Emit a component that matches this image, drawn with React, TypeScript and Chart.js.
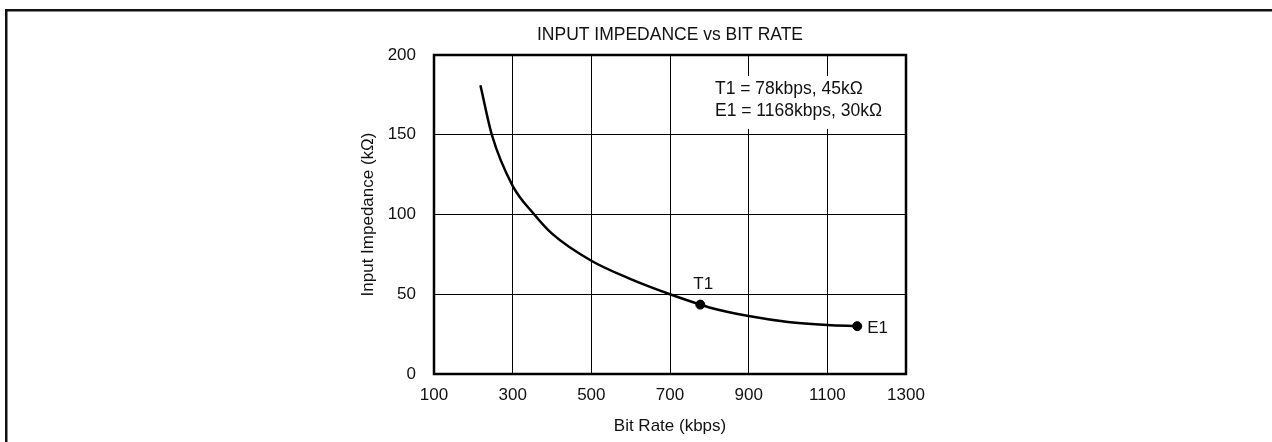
import React, { useEffect, useRef } from "react";
import { Chart, registerables } from "chart.js";

Chart.register(...registerables);

// ---- data ----
const curveX = [218, 247, 300, 355, 400, 500, 600, 700, 777, 800, 900, 1000, 1100, 1176];
const curveY = [181, 150, 118, 100, 88, 71, 59.5, 50, 43.5, 41.7, 36.3, 32.6, 30.7, 30];
const markerNames = ["T1", "E1"];
const markerX = [777, 1176];
const markerY = [43.5, 30];
const xTicks = [100, 300, 500, 700, 900, 1100, 1300];
const yTicks = [0, 50, 100, 150, 200];
const titleText = "INPUT IMPEDANCE vs BIT RATE";
const xTitle = "Bit Rate (kbps)";
const yTitle = "Input Impedance (kΩ)";
const noteLines = ["T1 = 78kbps, 45kΩ", "E1 = 1168kbps, 30kΩ"];

const FONT = '"Liberation Sans", Arial, Helvetica, sans-serif';
const FS = 17;
const FS_TITLE = 17.5;
const W = 1272;
const H = 442;

const decor = {
  id: "decor",
  beforeDraw(chart: any) {
    const ctx = chart.ctx;
    ctx.save();
    ctx.fillStyle = "#111";
    ctx.fillRect(5, 9, W - 5, 2.5);
    ctx.fillRect(5, 9, 2.5, H - 9);
    ctx.restore();
  },
  afterDatasetsDraw(chart: any) {
    const { ctx, chartArea: a } = chart;
    ctx.save();
    ctx.font = `${FS_TITLE}px ${FONT}`;
    const tx = a.left + 281;
    let maxW = 0;
    noteLines.forEach((t) => {
      maxW = Math.max(maxW, ctx.measureText(t).width);
    });
    ctx.fillStyle = "#fff";
    ctx.fillRect(tx - 5, a.top + 21, maxW + 10, 53);
    ctx.fillStyle = "#111";
    ctx.textAlign = "left";
    ctx.textBaseline = "middle";
    noteLines.forEach((t, i) => {
      ctx.fillText(t, tx, a.top + 34 + i * 22);
    });
    ctx.restore();
  },
  afterDraw(chart: any) {
    const { ctx, chartArea: a, scales } = chart;
    const xs = scales.x;
    const ys = scales.y;
    ctx.save();
    ctx.strokeStyle = "#000";
    ctx.lineWidth = 2.5;
    ctx.strokeRect(a.left, a.top, a.right - a.left, a.bottom - a.top);

    ctx.fillStyle = "#111";
    ctx.textAlign = "center";
    ctx.textBaseline = "middle";
    const cx = (a.left + a.right) / 2;
    ctx.font = `${FS_TITLE}px ${FONT}`;
    ctx.fillText(titleText, cx, 35.5);
    ctx.font = `${FS}px ${FONT}`;
    ctx.fillText(xTitle, cx, 426);

    ctx.save();
    ctx.translate(368, (a.top + a.bottom) / 2);
    ctx.rotate(-Math.PI / 2);
    ctx.fillText(yTitle, 0, 0);
    ctx.restore();

    // marker labels
    markerNames.forEach((name, i) => {
      const px = xs.getPixelForValue(markerX[i]);
      const py = ys.getPixelForValue(markerY[i]);
      if (i === 0) {
        ctx.textAlign = "center";
        ctx.fillText(name, px + 3, py - 20);
      } else {
        ctx.textAlign = "left";
        ctx.fillText(name, px + 10, py + 2);
      }
    });
    ctx.restore();
  },
};

export default function App() {
  const ref = useRef<HTMLCanvasElement>(null);
  useEffect(() => {
    if (!ref.current) return;
    const tickFont = { family: FONT, size: FS };
    const chart = new Chart(ref.current, {
      type: "line",
      data: {
        datasets: [
          {
            data: curveX.map((x, i) => ({ x, y: curveY[i] })),
            borderColor: "#000",
            borderWidth: 2.5,
            pointRadius: 0,
            cubicInterpolationMode: "monotone",
            fill: false,
          },
          {
            data: markerX.map((x, i) => ({ x, y: markerY[i] })),
            showLine: false,
            pointRadius: 4.5,
            pointBackgroundColor: "#000",
            pointBorderColor: "#000",
            borderColor: "#000",
          },
        ],
      } as any,
      options: {
        animation: false,
        responsive: false,
        devicePixelRatio: 1,
        layout: { padding: { left: 0, top: 55, right: W - 906, bottom: 0 } },
        plugins: {
          legend: { display: false },
          tooltip: { enabled: false },
          title: { display: false },
        },
        scales: {
          x: {
            type: "linear",
            min: 100,
            max: 1300,
            grid: { color: "#000", lineWidth: 1, drawTicks: false },
            border: { display: false },
            ticks: {
              font: tickFont,
              color: "#111",
              padding: 11,
              maxRotation: 0,
              callback: (v: any) => String(v),
            },
            afterBuildTicks: (s: any) => {
              s.ticks = xTicks.map((v) => ({ value: v }));
            },
            afterFit: (s: any) => {
              s.height = H - 374;
            },
          },
          y: {
            type: "linear",
            min: 0,
            max: 200,
            grid: { color: "#000", lineWidth: 1, drawTicks: false },
            border: { display: false },
            ticks: {
              font: tickFont,
              color: "#111",
              padding: 18,
              callback: (v: any) => String(v),
            },
            afterBuildTicks: (s: any) => {
              s.ticks = yTicks.map((v) => ({ value: v }));
            },
            afterFit: (s: any) => {
              s.width = 434;
            },
          },
        },
      } as any,
      plugins: [decor],
    });
    return () => chart.destroy();
  }, []);
  return (
    <div style={{ position: "absolute", left: 0, top: 0, width: W, height: H }}>
      <canvas ref={ref} width={W} height={H} style={{ display: "block" }} />
    </div>
  );
}
